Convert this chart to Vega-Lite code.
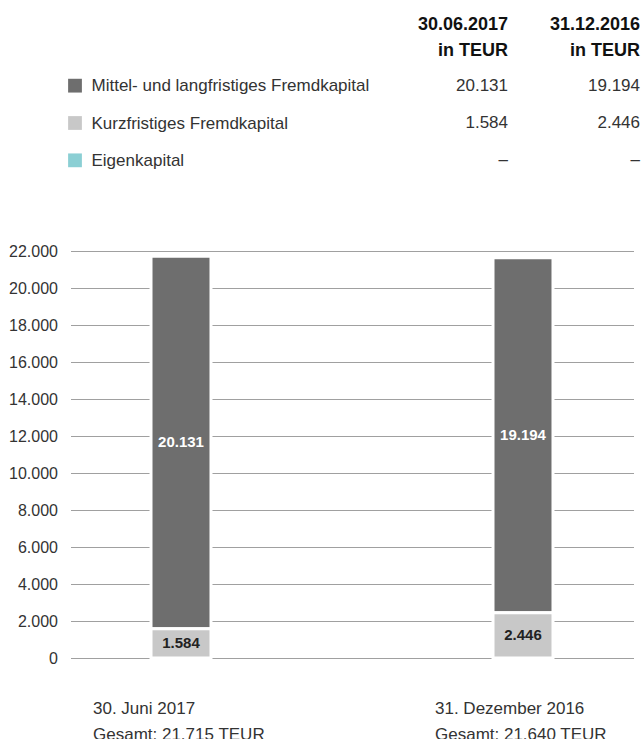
{
  "$schema": "https://vega.github.io/schema/vega-lite/v6.json",
  "padding": {"left": 8, "top": 15, "right": 3, "bottom": 0},
  "config": {
    "locale": {"number": {"decimal": ",", "thousands": ".", "grouping": [3], "currency": ["", " €"]}},
    "view": {"stroke": null},
    "font": "Liberation Sans"
  },
  "datasets": {
    "legend": [
      {"category": "Mittel- und langfristiges Fremdkapital"},
      {"category": "Kurzfristiges Fremdkapital"},
      {"category": "Eigenkapital"}
    ],
    "table": [
      {"category": "Mittel- und langfristiges Fremdkapital", "column": "30.06.2017|in TEUR", "text": "20.131"},
      {"category": "Mittel- und langfristiges Fremdkapital", "column": "31.12.2016|in TEUR", "text": "19.194"},
      {"category": "Kurzfristiges Fremdkapital", "column": "30.06.2017|in TEUR", "text": "1.584"},
      {"category": "Kurzfristiges Fremdkapital", "column": "31.12.2016|in TEUR", "text": "2.446"},
      {"category": "Eigenkapital", "column": "30.06.2017|in TEUR", "text": "–"},
      {"category": "Eigenkapital", "column": "31.12.2016|in TEUR", "text": "–"}
    ],
    "bars": [
      {"period": "30. Juni 2017|Gesamt: 21.715 TEUR", "category": "Mittel- und langfristiges Fremdkapital", "value": 20131, "order": 2},
      {"period": "30. Juni 2017|Gesamt: 21.715 TEUR", "category": "Kurzfristiges Fremdkapital", "value": 1584, "order": 1},
      {"period": "31. Dezember 2016|Gesamt: 21.640 TEUR", "category": "Mittel- und langfristiges Fremdkapital", "value": 19194, "order": 2},
      {"period": "31. Dezember 2016|Gesamt: 21.640 TEUR", "category": "Kurzfristiges Fremdkapital", "value": 2446, "order": 1}
    ]
  },
  "center": true,
  "vconcat": [
    {
      "hconcat": [
        {
          "data": {"name": "legend"},
          "width": 22,
          "height": 112,
          "mark": {"type": "square", "size": 190, "opacity": 1},
          "encoding": {
            "y": {
              "field": "category", "type": "nominal",
              "scale": {"domain": ["Mittel- und langfristiges Fremdkapital", "Kurzfristiges Fremdkapital", "Eigenkapital"]},
              "axis": {"orient": "right", "title": null, "domain": false, "ticks": false, "labelPadding": 5, "labelFontSize": 17, "labelColor": "#333", "labelLimit": 500}
            },
            "color": {
              "field": "category", "type": "nominal",
              "scale": {"domain": ["Mittel- und langfristiges Fremdkapital", "Kurzfristiges Fremdkapital", "Eigenkapital"], "range": ["#6e6e6e", "#c8c8c8", "#8bcfd4"]},
              "legend": null
            }
          }
        },
        {
          "data": {"name": "table"},
          "width": 264,
          "height": 112,
          "mark": {"type": "text", "align": "right", "baseline": "middle", "fontSize": 17, "color": "#333"},
          "encoding": {
            "x": {
              "field": "column", "type": "nominal", "sort": null,
              "scale": {"type": "band", "paddingInner": 0, "paddingOuter": 0},
              "bandPosition": 1,
              "axis": {"orient": "top", "title": null, "labelOffset": 66, "labelAlign": "right", "labelAngle": 0, "labelExpr": "split(datum.value, '|')", "labelFontWeight": "bold", "labelFontSize": 18, "labelLineHeight": 26, "labelPadding": 34, "domain": false, "ticks": false, "labelColor": "#111"}
            },
            "y": {
              "field": "category", "type": "nominal",
              "scale": {"domain": ["Mittel- und langfristiges Fremdkapital", "Kurzfristiges Fremdkapital", "Eigenkapital"]},
              "axis": null
            },
            "text": {"field": "text"}
          }
        }
      ],
      "spacing": 7
    },
    {
      "data": {"name": "bars"},
      "width": 563,
      "height": 407,
      "encoding": {
        "x": {
          "field": "period", "type": "nominal", "sort": null,
          "scale": {"paddingInner": 0.8246, "paddingOuter": 0.2354},
          "axis": {"title": null, "labelExpr": "split(datum.value, '|')", "labelAlign": "left", "labelOffset": -88, "labelAngle": 0, "labelPadding": 42, "labelBaseline": "top", "labelFontSize": 17, "labelLineHeight": 26, "domain": false, "ticks": false, "labelColor": "#333"}
        }
      },
      "layer": [
        {
          "mark": {"type": "bar", "stroke": "white", "strokeWidth": 3},
          "encoding": {
            "y": {
              "field": "value", "type": "quantitative", "stack": "zero",
              "scale": {"domain": [0, 22000], "nice": false},
              "axis": {"title": null, "values": [0, 2000, 4000, 6000, 8000, 10000, 12000, 14000, 16000, 18000, 20000, 22000], "labelOverlap": false, "format": ",d", "domain": false, "ticks": false, "labelPadding": 13, "labelFontSize": 16, "labelColor": "#333", "gridColor": "#a0a0a0", "gridWidth": 1.2}
            },
            "color": {
              "field": "category", "type": "nominal",
              "scale": {"domain": ["Mittel- und langfristiges Fremdkapital", "Kurzfristiges Fremdkapital", "Eigenkapital"], "range": ["#6e6e6e", "#c8c8c8", "#8bcfd4"]},
              "legend": null
            },
            "order": {"field": "order", "type": "quantitative"}
          }
        },
        {
          "mark": {"type": "text", "fontWeight": "bold", "fontSize": 15, "baseline": "middle"},
          "encoding": {
            "y": {
              "field": "value", "type": "quantitative", "stack": "zero", "bandPosition": 0.5,
              "axis": {"title": null, "values": [0, 2000, 4000, 6000, 8000, 10000, 12000, 14000, 16000, 18000, 20000, 22000], "labelOverlap": false, "format": ",d", "domain": false, "ticks": false, "labelPadding": 13, "labelFontSize": 16, "labelColor": "#333", "gridColor": "#a0a0a0", "gridWidth": 1.2}
            },
            "order": {"field": "order", "type": "quantitative"},
            "text": {"field": "value", "type": "quantitative", "format": ",d"},
            "color": {
              "condition": {"test": "datum.category == 'Kurzfristiges Fremdkapital'", "value": "#222"},
              "value": "#ffffff"
            }
          }
        }
      ]
    }
  ],
  "spacing": 64,
  "resolve": {"scale": {"color": "shared"}}
}
